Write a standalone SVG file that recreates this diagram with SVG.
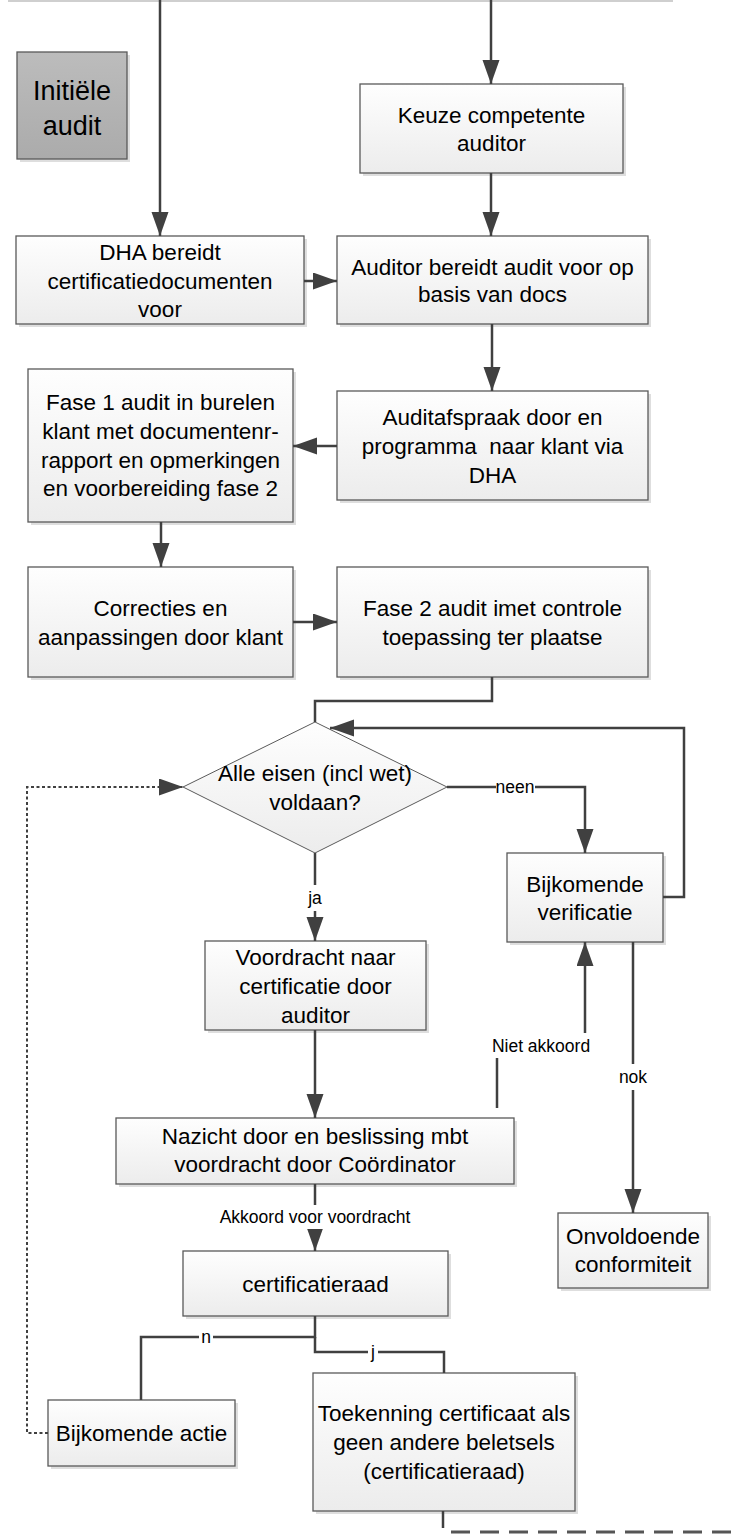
<svg xmlns="http://www.w3.org/2000/svg" width="731" height="1539" viewBox="0 0 731 1539">
<defs>
<linearGradient id="gBox" x1="0" y1="0" x2="0" y2="1">
<stop offset="0" stop-color="#fefefe"/>
<stop offset="1" stop-color="#ececec"/>
</linearGradient>
<linearGradient id="gGrey" x1="0" y1="0" x2="0" y2="1">
<stop offset="0" stop-color="#bcbcbc"/>
<stop offset="1" stop-color="#ababab"/>
</linearGradient>
<marker id="arr" markerUnits="userSpaceOnUse" markerWidth="26" markerHeight="18" refX="24" refY="8.5" orient="auto">
<path d="M0,0 L24,8.5 L0,17 Z" fill="#404040"/>
</marker>
<style>
.box{fill:url(#gBox);stroke:#595959;stroke-width:1.3}
.grey{fill:url(#gGrey);stroke:#595959;stroke-width:1.3}
.sh{fill:#dedede}
.t{font-family:"Liberation Sans",Arial,sans-serif;font-size:22.5px;fill:#000;text-anchor:middle}
.tb{font-family:"Liberation Sans",Arial,sans-serif;font-size:27px;fill:#000;text-anchor:middle}
.lb{font-family:"Liberation Sans",Arial,sans-serif;font-size:17.5px;fill:#000;text-anchor:middle}
.c{fill:none;stroke:#404040;stroke-width:2.5}
.ca{fill:none;stroke:#404040;stroke-width:2.5;marker-end:url(#arr)}
.dot{fill:none;stroke:#404040;stroke-width:2;stroke-dasharray:3 2.5;marker-end:url(#arr)}
.dash{fill:none;stroke:#555;stroke-width:3;stroke-dasharray:19 10}
.bg{fill:#fff}
</style>
</defs>

<line x1="8" y1="1" x2="673" y2="1" stroke="#cfcfcf" stroke-width="2"/>

<g id="n-initiele">
<rect class="sh" x="20" y="55" width="110" height="107"/>
<rect class="grey" x="17" y="52" width="110" height="107"/>
<text class="tb" x="72" y="99.5">Initiële</text>
<text class="tb" x="72" y="134.5">audit</text>
</g>

<g id="n-keuze">
<rect class="sh" x="363" y="87" width="263" height="89"/>
<rect class="box" x="360" y="84" width="263" height="89"/>
<text class="t" x="491.5" y="123">Keuze competente</text>
<text class="t" x="491.5" y="151">auditor</text>
</g>

<g id="n-dha">
<rect class="sh" x="19" y="239" width="288" height="88"/>
<rect class="box" x="16" y="236" width="288" height="88"/>
<text class="t" x="160" y="260">DHA bereidt</text>
<text class="t" x="160" y="289">certificatiedocumenten</text>
<text class="t" x="160" y="317">voor</text>
</g>

<g id="n-auditor">
<rect class="sh" x="340" y="239" width="311" height="88"/>
<rect class="box" x="337" y="236" width="311" height="88"/>
<text class="t" x="492.5" y="275">Auditor bereidt audit voor op</text>
<text class="t" x="492.5" y="302">basis van docs</text>
</g>

<g id="n-auditafspraak">
<rect class="sh" x="340" y="394" width="311" height="109"/>
<rect class="box" x="337" y="391" width="311" height="109"/>
<text class="t" x="492.5" y="425">Auditafspraak door en</text>
<text class="t" x="492.5" y="454" xml:space="preserve">programma  naar klant via</text>
<text class="t" x="492.5" y="483">DHA</text>
</g>

<g id="n-fase1">
<rect class="sh" x="31" y="372" width="265" height="153"/>
<rect class="box" x="28" y="369" width="265" height="153"/>
<text class="t" x="160.5" y="410">Fase 1 audit in burelen</text>
<text class="t" x="160.5" y="439">klant met documentenr-</text>
<text class="t" x="160.5" y="468">rapport en opmerkingen</text>
<text class="t" x="160.5" y="496">en voorbereiding fase 2</text>
</g>

<g id="n-correcties">
<rect class="sh" x="31" y="570" width="265" height="110"/>
<rect class="box" x="28" y="567" width="265" height="110"/>
<text class="t" x="160.5" y="616">Correcties en</text>
<text class="t" x="160.5" y="645">aanpassingen door klant</text>
</g>

<g id="n-fase2">
<rect class="sh" x="340" y="570" width="311" height="110"/>
<rect class="box" x="337" y="567" width="311" height="110"/>
<text class="t" x="492.5" y="616">Fase 2 audit imet controle</text>
<text class="t" x="492.5" y="645">toepassing ter plaatse</text>
</g>

<g id="n-beslissing">
<polygon points="315,722 447,787 315,853 183,787" fill="url(#gBox)" stroke="#595959" stroke-width="1"/>
<text class="t" x="315" y="781">Alle eisen (incl wet)</text>
<text class="t" x="315" y="810">voldaan?</text>
</g>

<g id="n-bijk-verif">
<rect class="sh" x="510" y="856" width="156" height="89"/>
<rect class="box" x="507" y="853" width="156" height="89"/>
<text class="t" x="585" y="892">Bijkomende</text>
<text class="t" x="585" y="920">verificatie</text>
</g>

<g id="n-voordracht">
<rect class="sh" x="208" y="944" width="221" height="89"/>
<rect class="box" x="205" y="941" width="221" height="89"/>
<text class="t" x="315.5" y="965">Voordracht naar</text>
<text class="t" x="315.5" y="994">certificatie door</text>
<text class="t" x="315.5" y="1023">auditor</text>
</g>

<g id="n-nazicht">
<rect class="sh" x="119" y="1121" width="398" height="66"/>
<rect class="box" x="116" y="1118" width="398" height="66"/>
<text class="t" x="315" y="1144">Nazicht door en beslissing mbt</text>
<text class="t" x="315" y="1172">voordracht door Coördinator</text>
</g>

<g id="n-onvoldoende">
<rect class="sh" x="561" y="1216" width="150" height="75"/>
<rect class="box" x="558" y="1213" width="150" height="75"/>
<text class="t" x="633" y="1244">Onvoldoende</text>
<text class="t" x="633" y="1272">conformiteit</text>
</g>

<g id="n-certraad">
<rect class="sh" x="186" y="1254" width="265" height="65"/>
<rect class="box" x="183" y="1251" width="265" height="65"/>
<text class="t" x="315.5" y="1292">certificatieraad</text>
</g>

<g id="n-bijk-actie">
<rect class="sh" x="51" y="1403" width="187" height="66"/>
<rect class="box" x="48" y="1400" width="187" height="66"/>
<text class="t" x="141.5" y="1441">Bijkomende actie</text>
</g>

<g id="n-toekenning">
<rect class="sh" x="316" y="1376" width="262" height="138"/>
<rect class="box" x="313" y="1373" width="262" height="138"/>
<text class="t" x="444" y="1421">Toekenning certificaat als</text>
<text class="t" x="444" y="1450">geen andere beletsels</text>
<text class="t" x="444" y="1479">(certificatieraad)</text>
</g>

<g id="connectors">
<path class="ca" d="M160,0 V236"/>
<path class="ca" d="M491,0 V84"/>
<path class="ca" d="M491,173 V236"/>
<path class="ca" d="M304,281 H337"/>
<path class="ca" d="M492,324 V391"/>
<path class="ca" d="M337,446 H293"/>
<path class="ca" d="M161,522 V567"/>
<path class="ca" d="M293,622 H337"/>
<path class="c" d="M492,677 V701 H315 V722"/>
<path class="ca" d="M663,897 H684 V728 H330"/>
<path class="ca" d="M447,787 H585 V853"/>
<path class="ca" d="M315,853 V941"/>
<path class="ca" d="M315,1030 V1118"/>
<path class="ca" d="M497,1108 V1046 H585 V942"/>
<path class="ca" d="M633,942 V1213"/>
<path class="ca" d="M315,1184 V1251"/>
<path class="c" d="M315,1316 V1337 H141 V1400"/>
<path class="c" d="M315,1337 V1352 H444 V1373"/>
<path class="dot" d="M48,1433 H27 V787 H183"/>
<path class="c" d="M443,1511 V1528"/>
<path class="dash" d="M451,1532 H731"/>

<rect class="bg" x="496" y="777" width="39" height="20"/>
<text class="lb" x="515" y="793">neen</text>
<rect class="bg" x="305" y="885" width="20" height="26"/>
<text class="lb" x="315" y="904">ja</text>
<rect class="bg" x="489" y="1033" width="104" height="25"/>
<text class="lb" x="541" y="1052">Niet akkoord</text>
<rect class="bg" x="617" y="1064" width="32" height="26"/>
<text class="lb" x="633" y="1083">nok</text>
<rect class="bg" x="213" y="1205" width="204" height="24"/>
<text class="lb" x="315" y="1223">Akkoord voor voordracht</text>
<rect class="bg" x="199" y="1328" width="14" height="18"/>
<text class="lb" x="206" y="1343">n</text>
<rect class="bg" x="368" y="1343" width="10" height="20"/>
<text class="lb" x="373" y="1358">j</text>
</g>
</svg>
